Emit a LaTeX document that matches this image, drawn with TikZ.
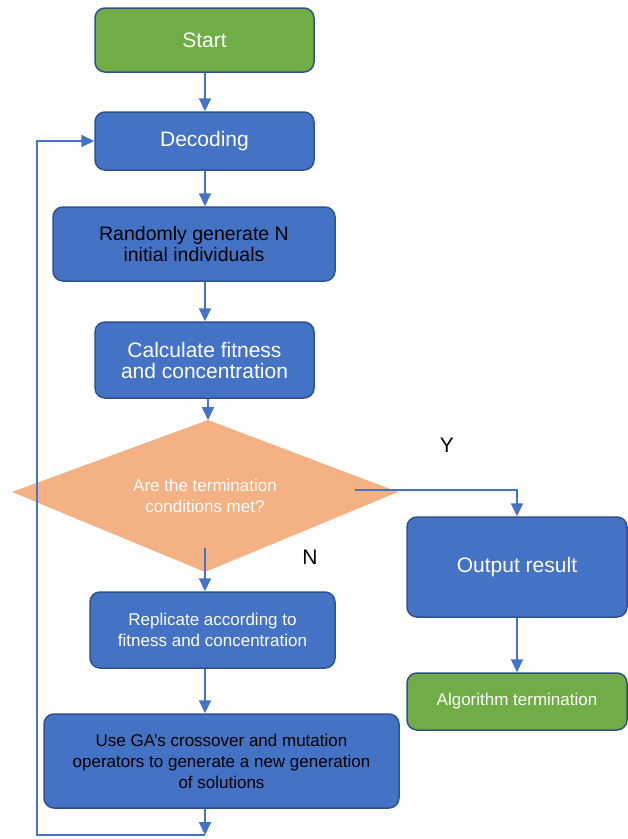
\documentclass[tikz,border=0pt]{standalone}
\usepackage{fontspec}
\setmainfont{Liberation Sans}
\usetikzlibrary{arrows.meta,calc}
\definecolor{boxblue}{HTML}{4472C4}
\definecolor{edgeblue}{HTML}{2F528F}
\definecolor{boxgreen}{HTML}{70AD47}
\definecolor{diaorange}{HTML}{F4B183}
\tikzset{
  box/.style={draw=edgeblue, line width=1.5pt, rounded corners=10pt, fill=boxblue, text=white, align=center, inner sep=0pt},
  greenbox/.style={box, fill=boxgreen},
  big/.style={font=\fontsize{21}{21}\selectfont},
  small/.style={font=\fontsize{17}{21}\selectfont},
  conn/.style={draw=boxblue, line width=2pt, -{Triangle[length=13pt,width=12pt]}},
  lbl/.style={font=\fontsize{21}{21}\selectfont, text=black}
}
\begin{document}
\begin{tikzpicture}[x=1pt,y=-1pt]
\useasboundingbox (0,0) rectangle (628,839);
\fill[white] (0,0) rectangle (628,839);
\node[greenbox,big,minimum width=219pt,minimum height=64pt] (start) at (204.5,40) {Start};
\node[box,big,minimum width=219pt,minimum height=58pt] (dec) at (204.5,141) {Decoding};
\node[box,font=\fontsize{19.5}{21}\selectfont,text=black,minimum width=282pt,minimum height=74pt] (rand) at (194,244) {Randomly generate N\\initial individuals};
\node[box,big,minimum width=219pt,minimum height=76pt] (calc) at (204.5,360) {Calculate fitness\\and concentration};
\coordinate (dtop) at (208,420);
\coordinate (dright) at (398,492);
\coordinate (dbot) at (205,572);
\coordinate (dleft) at (12,492);
\fill[diaorange] (dtop) -- (dright) -- (dbot) -- (dleft) -- cycle;
\node[text=white,small,align=center,inner sep=0pt] (dia) at (205,496) {Are the termination\\conditions met?};
\node[box,big,minimum width=220pt,minimum height=100pt] (out) at (517,567) {Output result};
\node[greenbox,small,minimum width=220pt,minimum height=57pt] (term) at (517,701.5) {Algorithm termination};
\node[box,small,minimum width=245pt,minimum height=76pt] (rep) at (212.5,630) {Replicate according to\\fitness and concentration};
\node[box,small,text=black,minimum width=355pt,minimum height=94pt] (ga) at (221.5,761) {Use GA's crossover and mutation\\operators to generate a new generation\\of solutions};
\node[lbl] (ylab) at (447,445) {Y};
\node[lbl] (nlab) at (310,557) {N};
\coordinate (col) at (205,0);
\coordinate (ystart) at (355,490);
\coordinate (nstart) at (205,548);
\coordinate (bot) at (205,835);
\coordinate (left) at (37,835);
\draw[conn] (start.south -| col) -- (dec.north -| col);
\draw[conn] (dec.south -| col) -- (rand.north -| col);
\draw[conn] (rand.south -| col) -- (calc.north -| col);
\draw[conn] (calc.south -| dtop) -- (dtop);
\draw[conn] (ystart) -| (out.north);
\draw[conn] (out.south) -- (term.north);
\draw[conn] (nstart) -- (rep.north -| nstart);
\draw[conn] (rep.south -| col) -- (ga.north -| col);
\draw[conn] (ga.south -| col) -- (bot);
\draw[conn] (bot) -- (left) |- (dec.west);
\end{tikzpicture}
\end{document}
